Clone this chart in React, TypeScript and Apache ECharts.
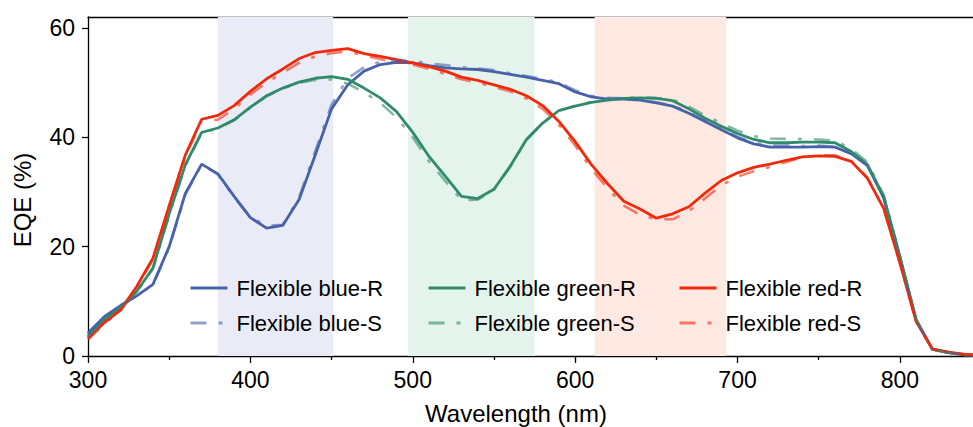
import React, { useEffect, useRef } from "react";
import * as echarts from "echarts";

const wavelengths = [
  300, 310, 320, 330, 340, 350, 360, 370, 380, 390, 400, 410, 420, 430, 440, 450, 460, 470, 480, 490,
  500, 510, 520, 530, 540, 550, 560, 570, 580, 590, 600, 610, 620, 630, 640, 650, 660, 670, 680, 690,
  700, 710, 720, 730, 740, 750, 760, 770, 780, 790, 800, 810, 820, 830, 840, 850,
];

const blueR = [
  4.2, 7.2, 9.2, 11.0, 13.1, 20.0, 29.8, 35.1, 33.3, 29.2, 25.3, 23.4, 23.9, 28.6, 36.8, 45.2, 49.6, 52.1, 53.3, 53.7,
  53.6, 53.1, 52.7, 52.5, 52.4, 52.0, 51.5, 51.0, 50.4, 49.8, 48.3, 47.4, 47.0, 47.0, 46.8, 46.3, 45.7, 44.4, 42.9, 41.4,
  39.9, 38.8, 38.2, 38.2, 38.2, 38.3, 38.2, 37.0, 34.8, 28.9, 18.0, 6.5, 1.2, 0.6, 0.2, 0.1,
];
const blueS = [
  4.0, 7.0, 9.3, 11.0, 13.0, 19.8, 29.5, 35.0, 33.2, 29.0, 25.4, 23.8, 24.0, 29.0, 37.5, 46.0, 50.8, 52.8, 53.8, 54.0,
  54.0, 53.5, 53.2, 52.8, 52.6, 52.3, 51.7, 51.2, 50.7, 50.0, 48.6, 47.6, 47.2, 47.1, 46.9, 46.4, 45.8, 44.6, 43.1, 41.6,
  40.1, 39.0, 38.5, 38.5, 38.4, 38.5, 38.3, 37.1, 34.9, 28.9, 18.0, 6.5, 1.2, 0.6, 0.2, 0.1,
];
const greenR = [
  3.6, 6.6, 8.8, 11.8, 16.1, 26.0, 35.0, 40.9, 41.7, 43.2, 45.5, 47.6, 49.0, 50.1, 50.8, 51.1, 50.6, 49.0, 47.2, 44.7,
  40.9, 36.5, 32.9, 29.2, 28.8, 30.5, 34.7, 39.6, 42.6, 44.9, 45.7, 46.4, 46.8, 47.1, 47.2, 47.1, 46.7, 45.2, 43.5, 42.0,
  40.7, 39.6, 39.0, 39.0, 39.1, 39.1, 39.0, 37.4, 35.0, 29.2, 18.2, 6.6, 1.2, 0.6, 0.2, 0.1,
];
const greenS = [
  3.4, 6.4, 8.7, 11.6, 16.0, 25.8, 34.8, 40.8, 41.6, 43.1, 45.4, 47.5, 48.9, 50.0, 50.5, 50.6, 49.8, 48.2, 46.3, 43.6,
  40.0, 35.6, 32.0, 28.5, 28.6, 30.4, 34.6, 39.5, 42.6, 44.8, 45.8, 46.5, 46.9, 47.2, 47.3, 47.2, 46.9, 45.6, 44.0, 42.6,
  41.2, 40.2, 39.8, 39.7, 39.7, 39.6, 39.4, 37.9, 35.4, 29.4, 18.3, 6.7, 1.2, 0.6, 0.2, 0.1,
];
const redR = [
  3.2, 6.1, 8.4, 12.7, 17.9, 27.5, 36.8, 43.3, 44.0, 45.8, 48.4, 50.7, 52.5, 54.4, 55.5, 55.9, 56.2, 55.3, 54.8, 54.2,
  53.6, 52.9, 52.1, 51.0, 50.4, 49.6, 48.8, 47.6, 45.8, 42.9, 39.2, 35.0, 31.5, 28.3, 26.9, 25.2, 26.0, 27.3, 29.8, 32.1,
  33.5, 34.5, 35.1, 35.8, 36.4, 36.6, 36.5, 35.6, 32.5, 27.0, 17.0, 6.3, 1.3, 0.7, 0.3, 0.1,
];
const redS = [
  3.0, 5.9, 8.2, 12.5, 17.7, 27.2, 36.5, 43.0, 43.2, 45.2, 47.8, 50.0, 51.8, 53.6, 54.8, 55.4, 55.7, 55.0, 54.3, 53.8,
  53.3, 52.5, 51.6, 50.6, 50.0, 49.2, 48.4, 47.1, 45.2, 42.3, 38.5, 34.2, 30.7, 27.5, 25.8, 25.0, 25.0, 26.5, 28.8, 31.2,
  32.8, 33.8, 34.6, 35.5, 36.3, 36.7, 36.7, 35.7, 32.6, 27.0, 17.0, 6.3, 1.3, 0.7, 0.3, 0.1,
];

const xMajorTicks = [300, 400, 500, 600, 700, 800];
const xMinorTicks = [350, 450, 550, 650, 750];
const yTicks = [0, 20, 40, 60];

const bands = [
  { from: 380, to: 451, color: "#e9ecf6" },
  { from: 497, to: 575, color: "#e4f3ec" },
  { from: 612, to: 693, color: "#fde9e1" },
];

const BLUE = "#4762a8";
const GREEN = "#2f8b6b";
const RED = "#f0290c";
const FONT = "'Liberation Sans', Arial, sans-serif";

const pairs = (ys: number[]) => wavelengths.map((x, i) => [x, ys[i]]);

export default function App() {
  const ref = useRef<HTMLDivElement>(null);
  useEffect(() => {
    if (!ref.current) return;
    const chart = echarts.init(ref.current, undefined, { renderer: "svg" });
    const solid = (name: string, color: string, data: number[], extra: any = {}) => ({
      name,
      type: "line",
      data: pairs(data),
      symbol: "none",
      lineStyle: { color, width: 2.8 },
      itemStyle: { color },
      z: 3,
      ...extra,
    });
    const dashed = (name: string, color: string, data: number[]) => ({
      name,
      type: "line",
      data: pairs(data),
      symbol: "none",
      lineStyle: { color, width: 2.6, type: [16, 12, 4, 12], opacity: 0.6 },
      itemStyle: { color, opacity: 0.6 },
      z: 4,
    });
    const legendBase = {
      orient: "vertical",
      top: 272,
      itemWidth: 37,
      itemHeight: 14,
      itemGap: 13,
      itemStyle: { opacity: 0 },
      lineStyle: { width: 3 },
      textStyle: { fontFamily: FONT, fontSize: 22, color: "#000", padding: [0, 0, 0, 4] },
    };
    chart.setOption({
      animation: false,
      backgroundColor: "#fff",
      grid: { left: 88, right: 0, top: 17, bottom: 71 },
      xAxis: [
        {
          type: "value",
          min: 300,
          max: 845,
          interval: 100,
          axisLine: { show: true, lineStyle: { color: "#000", width: 1.3 } },
          axisTick: { show: true, length: 7, customValues: xMajorTicks, lineStyle: { color: "#000", width: 1.3 } },
          axisLabel: { customValues: xMajorTicks, fontFamily: FONT, fontSize: 23, color: "#000", margin: 12 },
          splitLine: { show: false },
        },
        {
          type: "value",
          min: 300,
          max: 845,
          position: "bottom",
          axisLine: { show: false },
          axisTick: { show: true, length: 4, customValues: xMinorTicks, lineStyle: { color: "#000", width: 1.3 } },
          axisLabel: { show: false },
          splitLine: { show: false },
        },
        {
          type: "value",
          min: 300,
          max: 845,
          position: "top",
          axisLine: { show: true, lineStyle: { color: "#000", width: 1.3 } },
          axisTick: { show: false },
          axisLabel: { show: false },
          splitLine: { show: false },
        },
      ],
      yAxis: {
        type: "value",
        min: 0,
        max: 62,
        interval: 20,
        axisLine: { show: true, lineStyle: { color: "#000", width: 1.3 } },
        axisTick: { show: true, length: 6, customValues: yTicks, lineStyle: { color: "#000", width: 1.3 } },
        axisLabel: { customValues: yTicks, fontFamily: FONT, fontSize: 23, color: "#000", margin: 13 },
        splitLine: { show: false },
      },
      legend: [
        { ...legendBase, left: 184, data: ["Flexible blue-R", "Flexible blue-S"] },
        { ...legendBase, left: 422, data: ["Flexible green-R", "Flexible green-S"] },
        { ...legendBase, left: 673, data: ["Flexible red-R", "Flexible red-S"] },
      ],
      graphic: [
        {
          type: "text",
          x: 516,
          y: 413,
          style: { text: "Wavelength (nm)", font: `24px ${FONT}`, fill: "#000", align: "center", verticalAlign: "middle" },
        },
        {
          type: "text",
          x: 22,
          y: 200,
          rotation: Math.PI / 2,
          style: { text: "EQE (%)", font: `24px ${FONT}`, fill: "#000", align: "center", verticalAlign: "middle" },
        },
      ],
      series: [
        solid("Flexible blue-R", BLUE, blueR, {
          markArea: {
            silent: true,
            z: 1,
            data: bands.map((b) => [{ xAxis: b.from, itemStyle: { color: b.color } }, { xAxis: b.to }]),
          },
        }),
        solid("Flexible green-R", GREEN, greenR),
        solid("Flexible red-R", RED, redR),
        dashed("Flexible blue-S", BLUE, blueS),
        dashed("Flexible green-S", GREEN, greenS),
        dashed("Flexible red-S", RED, redS),
      ],
    });
    return () => chart.dispose();
  }, []);
  return (
    <div
      ref={ref}
      style={{ position: "fixed", left: 0, top: 0, width: 973, height: 427, background: "#fff" }}
    />
  );
}
